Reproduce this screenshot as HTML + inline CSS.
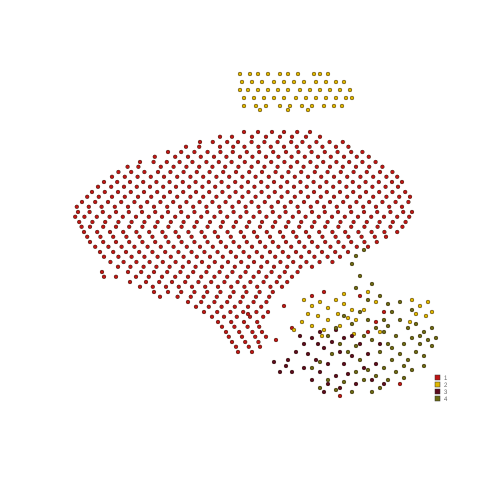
<!DOCTYPE html>
<html><head><meta charset="utf-8"><style>html,body{margin:0;padding:0;background:#fff}svg{display:block}</style></head>
<body>
<svg id="chart" width="480" height="480" xmlns="http://www.w3.org/2000/svg">
<g id="points"></g>
<g id="legend"></g>
</svg>
<script>
// cluster 1 (red) stored as rows: y value and x values
const redRowY = [33,35.5,38,40.5,43,45.5,48,50.5,53,55.5,58,60.5,63,65.5,68,70.5,73,75.5,78,80.5,83,85.5,88];
const redRowX = [
[61,64.5,68,71,74.3,77.5],
[50,53.2,56.8,59.5,62.9,66.1,69.4,72.8,75.6,79.1,82.4,85.7],
[42,45.3,48.6,51.9,55.1,58.2,61.7,64.8,68.3,71.5,74.6,77.9,81.2,84.4,87.8,90.6],
[35,38.4,41.7,44.9,48.1,51.6,54.7,57.9,61.2,64.5,67.8,71.1,74.3,77.6,80.8,84.1,87.3,90.6,93.9],
[29.6,32.8,36.1,39.5,42.6,45.9,49.2,52.4,55.8,59,62.3,65.5,68.9,72.1,75.3,78.7,81.9,85.2,88.4,91.7,95,98.1],
[26,29.3,32.5,35.8,39.1,42.4,45.7,48.9,52.2,55.4,58.8,62,65.3,68.5,71.8,75.1,78.4,81.6,84.9,88.2,91.4,94.7,98,100.5],
[23,26.2,29.5,32.7,36,39.3,42.5,45.8,49,52.3,55.6,58.9,62.1,65.4,68.7,71.9,75.2,78.5,81.7,85,88.3,91.5,94.8,98.1,101.3],
[20.5,23.8,27,30.3,33.6,36.8,40.1,43.3,46.6,49.9,53.1,56.4,59.7,62.9,66.2,69.5,72.7,76,79.3,82.5,85.8,89.1,92.3,95.6,98.9,102.1],
[19.5,22.4,25.7,29,32.2,35.5,38.8,42,45.3,48.6,51.8,55.1,58.4,61.6,64.9,68.2,71.4,74.7,78,81.2,84.5,87.8,91,94.3,97.6,100.8,103],
[19.8,23.1,26.3,29.6,32.9,36.1,39.4,42.7,45.9,49.2,52.5,55.7,59,62.3,65.5,68.8,72.1,75.3,78.6,81.9,85.1,88.4,91.7,94.9,98.2,101.4],
[21,24.3,27.5,30.8,34.1,37.3,40.6,43.9,47.1,50.4,53.7,56.9,60.2,63.5,66.7,70,73.3,76.5,79.8,83.1,86.3,89.6,92.9,96.1,99.3],
[22.5,25.8,29,32.3,35.6,38.8,42.1,45.4,48.6,51.9,55.2,58.4,61.7,65,68.2,71.5,74.8,78,81.3,84.6,87.8,91.1,94.2],
[25,28.3,31.5,34.8,38.1,41.3,44.6,47.9,51.1,54.4,57.7,60.9,64.2,67.5,70.7,74,77.3,80.5,83.8,87],
[27.6,30.9,34.1,37.4,40.7,43.9,47.2,50.5,53.7,57,60.3,63.5,66.8,70.1,73.3,76.6,79.9,83.1],
[25.5,32,35.3,38.5,41.8,45.1,48.3,51.6,54.9,58.1,61.4,64.7,67.9,71.2,74.4],
[32.5,36.5,39.8,43,46.3,49.6,52.8,56.1,59.4,62.6,65.9,69.2,71.8],
[38.5,42,45.3,48.6,51.8,55.1,58.4,61.6,64.9,68.2],
[47,50.3,53.6,56.8,60.1,63.4,66.6],
[51,54.3,57.6,60.8,64.1,67],
[54.5,57.8,61,64.3],
[56.5,59.8,63.1,65.5],
[58,61.3,64.6],
[59.5,63]
];
const redRow2Y = [34.2,36.7,39.2,41.7,44.2,46.7,49.2,51.7,54.2,56.7,59.2,61.7,64.2,66.7,69.2,71.7,74.2,76.7,79.2,81.7,84.2,86.7];
const redRow2X = [
[55,58,63,66.5,70,73,76.5,80],
[46.5,49.8,55,58.3,61.1,64.6,67.7,71,74.2,77.4,80.6,84,87.1],
[38.7,43.8,47,50.2,53.5,56.6,60,63.1,66.5,69.6,72.9,76.2,79.5,82.7,86,89.2,92.2],
[31.9,34.6,40.2,43.4,46.6,49.8,53.1,56.3,59.6,62.9,66.1,69.4,72.7,75.9,79.2,82.5,85.7,89,92.3,95.6],
[28,31.2,34.4,37.7,41,44.3,47.6,50.8,54.1,57.3,60.6,63.9,67.2,70.5,73.7,77,80.3,83.5,86.8,90.1,93.3,96.6,99.3],
[24.5,27.8,31,34.2,37.5,40.8,44,47.3,50.6,53.8,57.1,60.4,63.6,66.9,70.2,73.5,76.7,80,83.3,86.6,89.8,93.1,96.4,99.5],
[21.8,24.7,28,31.2,34.5,37.8,41,44.3,47.6,50.8,54.1,57.4,60.6,63.9,67.2,70.4,73.7,77,80.2,83.5,86.8,90,93.3,96.6,99.8,102.5],
[19.2,22.2,25.4,28.7,32,35.2,38.5,41.8,45,48.3,51.6,54.8,58.1,61.4,64.6,67.9,71.2,74.4,77.7,81,84.2,87.5,90.8,94,97.3,100.5],
[18.8,21.1,24.2,27.4,30.7,34,37.2,40.5,43.8,47,50.3,53.6,56.8,60.1,63.4,66.6,69.9,73.2,76.4,79.7,83,86.2,89.5,92.8,96,99.3,102.3],
[20.4,22.5,25.8,29,32.3,35.6,38.8,42.1,45.4,48.6,51.9,55.2,58.4,61.7,65,68.2,71.5,74.8,78,81.3,84.6,87.8,91.1,94.4,97.6,100.6],
[21.8,25.1,28.3,31.6,34.9,38.1,41.4,44.7,47.9,51.2,54.5,57.7,61,64.3,67.5,70.8,74.1,77.3,80.6,83.9,87.1,90.4,93.7,96.5],
[23.8,27.1,30.4,33.6,36.9,40.2,43.4,46.7,50,53.2,56.5,59.8,63,66.3,69.6,72.8,76.1,79.4,82.6,85.9,89.2,92],
[26,29.6,32.9,36.1,39.4,42.7,45.9,49.2,52.5,55.7,59,62.3,65.5,68.8,72.1,75.3,78.6,81.9,85],
[29.5,32.6,35.9,39.1,42.4,45.7,48.9,52.2,55.5,58.7,62,65.3,68.5,71.8,75.1,78],
[26,29,34,37.2,40.5,43.8,47,50.3,53.6,56.8,60.1,63.4,66.6,69.9,73],
[35,38.2,41.5,44.7,48,51.3,54.5,57.8,61.1,64.3,67.6,70.5],
[40,44.4,47.7,50.9,54.2,57.5,60.7,64,67.3],
[49,52.2,55.4,58.7,62,65.3],
[53,56,59.2,62.5,65.8],
[55.5,58.6,61.9,64.8],
[57.2,60.5,63.8,66.5],
[59,62.2,65]
];
const redExtra = [[73,82],[78,74],[71,76.5],[81,73],[90,74],[92,83],[94,80.5],[96,78],[62,78.5],[85,99],[100,96],[69,85]];
const yellowRowY = [18.5,20.5,22.5,24.5,26.5,27.5];
const yellowRowX = [
[60,62.5,64.5,67,70,72,74.5,78.5,80,82],
[60.5,63,65.5,68.5,71,73.5,76,79,81.5,84,86],
[60,62,64.5,67,69.5,72,75,77.5,80,82.5,85,87.5],
[61,63.5,66,68.5,71,74,76.5,79,81.5,84,86.5,88],
[61,64,66.5,70,72.5,75.5,78,81,83.5,85.5],
[65,72,77]
];
const yellowExtra = [[76,75],[78,76.5],[80,75.5],[82,77],[84,75],[86,76],[77,78.5],[79.5,79],[82,80],[84.5,78.5],[87,79.5],[75.5,80.5],[78,81.5],[81,82.5],[85,81.5],[88,77.5],[89,80],[103,75],[105,76.5],[107,75.5],[104,78.5],[106.5,79],[102.5,80.5],[108,78],[92,73],[94,75.5],[91,77.5],[80.5,84],[73.5,82.5],[88.5,83.5],[95,83],[86,73.5]];
const maroonPts = [[72,90],[74,88],[76,86],[78,84.5],[80,83],[77,88.5],[79,90],[81,87],[83,85.5],[85,88],[82,91],[80,93],[76,92],[73,93],[71.5,91.5],[84,94],[86,91],[88,89],[87,93.5],[89,96],[85,97],[82,96],[81,98],[90,86],[92,88.5],[94,91],[93,95],[86,84.5],[75,84],[70,93],[68.5,90.5],[95,86],[96,96],[78,95],[88,84],[91,92],[84,82.5],[79.5,86]];
const olivePts = [[90,78],[92,80],[94,82],[96,80],[98,78],[100,80],[102,82],[104,81],[106,83],[108,82],[107,85],[105,86],[103,84.5],[101,86],[99,84],[97,86],[95,88],[93,85],[91,84],[89,86.5],[87,88],[90,90],[92,92.5],[94,94],[96,92],[98,90],[100,88.5],[102,90],[104,88],[106,89],[108,86.5],[97,95],[95,97],[93,98],[99,93],[101,94.5],[91,95],[89,93],[86,95.5],[84,97.5],[82,95],[80,97],[88,98],[97,76],[100,75.5],[103,77.5],[96,83],[98,87],[85,86],[83,88.5],[88,81],[86,79],[84,82],[82,84],[95,74],[92,75],[89,72],[90,69],[88,66],[89,64],[91,62.5],[93,71],[101,91.5],[103,92.5],[106,91.5],[105,84],[109,84.5],[97,81.5],[80,90.5],[78,92]];
const legendLabels = ["1","2","3","4"];
const colors = ["#c01515","#e0b800","#5c0a1e","#6b6a12"];

const sx = v => v * 4;
const sy = v => v * 4;
const NS = "http://www.w3.org/2000/svg";
const layer = document.getElementById('points');
function dot(x, y, c, name) {
  const el = document.createElementNS(NS, 'circle');
  el.setAttribute('cx', sx(x));
  el.setAttribute('cy', sy(y));
  el.setAttribute('r', 1.9);
  el.setAttribute('fill', c);
  el.setAttribute('stroke', '#3a2a1a');
  el.setAttribute('stroke-width', 0.5);
  
  
  layer.appendChild(el);
}
redRowY.forEach((y, i) => redRowX[i].forEach(x => dot(x, y, colors[0], 'point-cluster-1')));
redRow2Y.forEach((y, i) => redRow2X[i].forEach(x => dot(x, y, colors[0], 'point-cluster-1')));
redExtra.forEach(p => dot(p[0], p[1], colors[0], 'point-cluster-1'));
yellowRowY.forEach((y, i) => yellowRowX[i].forEach(x => dot(x, y, colors[1], 'point-cluster-2')));
yellowExtra.forEach(p => dot(p[0], p[1], colors[1], 'point-cluster-2'));
maroonPts.forEach(p => dot(p[0], p[1], colors[2], 'point-cluster-3'));
olivePts.forEach(p => dot(p[0], p[1], colors[3], 'point-cluster-4'));

const lg = document.getElementById('legend');
legendLabels.forEach((l, i) => {
  const r = document.createElementNS(NS, 'rect');
  r.setAttribute('x', 435); r.setAttribute('y', 375 + i * 7);
  r.setAttribute('width', 5); r.setAttribute('height', 5);
  r.setAttribute('fill', colors[i]); r.setAttribute('stroke', '#333'); r.setAttribute('stroke-width', 0.5);
  
  
  lg.appendChild(r);
  const t = document.createElementNS(NS, 'text');
  t.setAttribute('x', 444); t.setAttribute('y', 380 + i * 7);
  t.setAttribute('font-family', 'Liberation Sans, sans-serif');
  t.setAttribute('font-size', 6); t.setAttribute('fill', '#666');
  t.textContent = l;
  
  
  lg.appendChild(t);
});
</script>
</body></html>
